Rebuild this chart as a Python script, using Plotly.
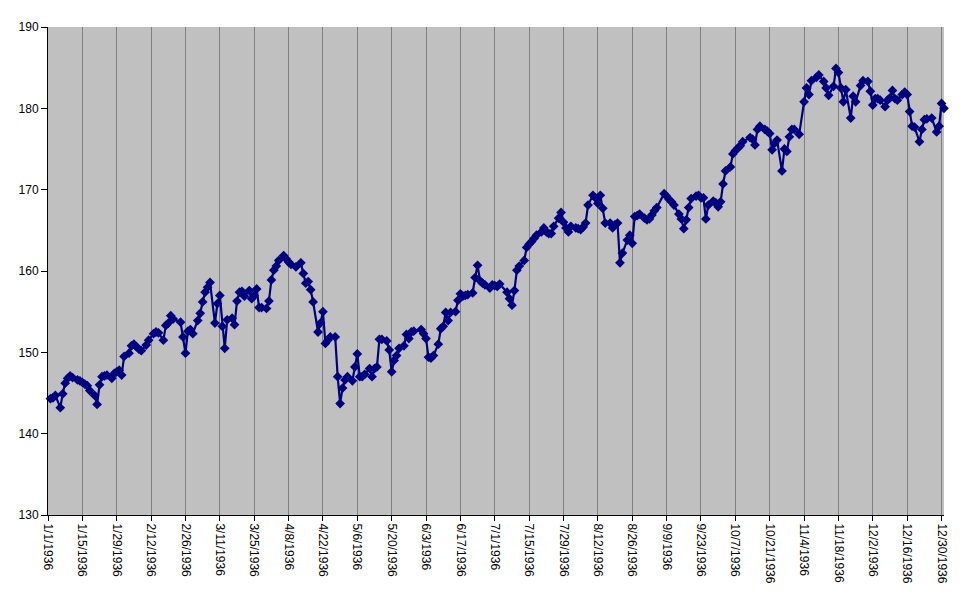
import pandas as pd
import plotly.graph_objects as go

YEAR = 1936

# Trading days (day of month) and closing values
jan_days = [2, 3, 4, 6, 7, 8, 9, 10, 11, 13, 14, 15, 16, 17, 18, 20, 21, 22, 23, 24, 25, 27, 28, 29, 30, 31]
jan_vals = [144.3, 144.4, 144.7, 143.2, 144.9, 146.2, 146.8, 147.1, 146.9, 146.6, 146.5, 146.3, 146.1, 145.9, 145.3,
            144.7, 143.6, 146.0, 147.0, 147.1, 147.2, 146.8, 147.4, 147.6, 147.8, 147.2]

feb_days = [1, 3, 4, 5, 6, 7, 8, 10, 11, 13, 14, 15, 17, 18, 19, 20, 21, 24, 25, 26, 27, 28, 29]
feb_vals = [149.5, 149.9, 150.8, 151.0, 150.7, 150.4, 150.2, 150.9, 151.5, 152.3, 152.5, 152.4, 151.5, 153.3, 153.6,
            154.5, 154.1, 153.7, 151.9, 149.9, 152.6, 152.8, 152.3]

mar_days = [2, 3, 4, 5, 6, 7, 9, 10, 11, 12, 13, 14, 16, 17, 18, 19, 20, 21, 23, 24, 25, 26, 27, 28, 30, 31]
mar_vals = [153.9, 154.8, 156.2, 157.4, 158.0, 158.6, 153.6, 156.0, 157.0, 153.2, 150.5, 154.0, 154.2, 153.4, 156.3,
            157.4, 157.5, 156.9, 157.6, 156.6, 157.0, 157.8, 155.5, 155.5, 155.4, 156.3]

apr_days = [1, 2, 3, 4, 6, 7, 8, 9, 11, 13, 14, 15, 16, 17, 18, 20, 21, 22, 23, 24, 25, 27, 28, 29, 30]
apr_vals = [158.9, 160.1, 160.6, 161.3, 161.9, 161.5, 161.1, 160.8, 160.5, 161.0, 159.7, 158.5, 158.7, 157.7, 156.2,
            152.5, 153.6, 155.0, 151.1, 151.5, 151.9, 151.9, 147.0, 143.7, 145.6]

may_days = [1, 2, 4, 5, 6, 7, 8, 9, 11, 12, 13, 14, 15, 16, 18, 19, 20, 21, 22, 23, 25, 26, 27, 28, 29]
may_vals = [146.6, 147.0, 146.5, 148.2, 149.8, 147.0, 147.0, 147.3, 148.0, 147.0, 148.0, 148.2, 151.6, 151.6, 151.4,
            150.3, 147.6, 149.0, 149.6, 150.5, 150.8, 152.2, 151.7, 152.5, 152.6]

jun_days = [1, 2, 3, 4, 5, 6, 8, 9, 10, 11, 12, 13, 15, 16, 17, 18, 19, 20, 22, 23, 24, 25, 26, 27, 29, 30]
jun_vals = [152.8, 152.3, 151.7, 149.4, 149.3, 149.6, 151.0, 152.9, 153.2, 154.9, 153.9, 154.9, 155.0, 156.4, 157.2,
            156.9, 157.0, 157.1, 157.3, 159.2, 160.7, 158.8, 158.5, 158.3, 157.9, 158.3]

jul_days = [1, 2, 3, 6, 7, 8, 9, 10, 11, 13, 14, 15, 16, 17, 18, 20, 21, 22, 23, 24, 25, 27, 28, 29, 30, 31]
jul_vals = [158.2, 158.1, 158.4, 157.4, 156.6, 155.8, 157.6, 160.1, 160.6, 161.3, 162.9, 163.3, 163.6, 164.0, 164.4,
            164.8, 165.3, 164.8, 164.6, 164.6, 165.5, 166.5, 167.2, 166.0, 165.3, 164.8]

aug_days = [1, 3, 4, 5, 6, 7, 8, 10, 11, 12, 13, 14, 15, 17, 18, 19, 20, 21, 22, 24, 25, 26, 27, 28, 29, 31]
aug_vals = [165.5, 165.3, 165.2, 165.1, 165.4, 165.9, 168.1, 169.3, 169.0, 168.3, 169.3, 167.7, 165.9, 165.9, 165.3,
            165.7, 165.9, 161.0, 162.2, 163.8, 164.4, 163.4, 166.7, 166.8, 167.0, 166.5]

sep_days = [1, 2, 3, 4, 5, 8, 9, 10, 11, 12, 14, 15, 16, 17, 18, 19, 21, 22, 23, 24, 25, 26, 28, 29, 30]
sep_vals = [166.3, 166.4, 166.9, 167.4, 167.8, 169.5, 169.2, 168.8, 168.5, 168.1, 167.0, 166.4, 165.2, 166.3, 167.8,
            168.9, 169.2, 169.3, 169.0, 169.0, 166.4, 168.1, 168.6, 168.4, 167.9]

oct_days = [1, 2, 3, 5, 6, 7, 8, 9, 10, 13, 14, 15, 16, 17, 19, 20, 21, 22, 23, 24, 26, 27, 28, 29, 30, 31]
oct_vals = [168.5, 170.7, 172.3, 172.8, 174.4, 174.8, 175.1, 175.4, 175.9, 176.4, 176.2, 175.5, 177.4, 177.8, 177.4,
            177.2, 176.9, 174.9, 175.7, 176.1, 172.3, 175.0, 174.7, 176.5, 177.4, 177.4]

nov_days = [2, 4, 5, 6, 7, 9, 10, 12, 13, 14, 16, 17, 18, 19, 20, 21, 23, 24, 25, 27, 28, 30]
nov_vals = [176.8, 180.8, 182.5, 181.7, 183.4, 183.8, 184.1, 183.3, 182.5, 181.6, 182.7, 184.9, 184.4, 182.5, 180.8,
            182.3, 178.8, 181.5, 180.8, 182.8, 183.4, 183.3]

dec_days = [1, 2, 3, 4, 5, 7, 8, 9, 10, 11, 12, 14, 15, 16, 17, 18, 19, 21, 22, 23, 24, 26, 28, 29, 30, 31]
dec_vals = [182.1, 180.4, 181.2, 181.2, 181.0, 180.2, 181.0, 181.3, 182.2, 181.2, 181.0, 181.7, 182.0, 181.7, 179.6,
            177.8, 177.7, 175.9, 177.4, 178.6, 178.7, 178.8, 177.1, 177.8, 180.6, 180.0]

months = [
    (1, jan_days, jan_vals), (2, feb_days, feb_vals), (3, mar_days, mar_vals), (4, apr_days, apr_vals),
    (5, may_days, may_vals), (6, jun_days, jun_vals), (7, jul_days, jul_vals), (8, aug_days, aug_vals),
    (9, sep_days, sep_vals), (10, oct_days, oct_vals), (11, nov_days, nov_vals), (12, dec_days, dec_vals),
]

dates, values = [], []
for m, days, vals in months:
    assert len(days) == len(vals), m
    for d, v in zip(days, vals):
        dates.append(pd.Timestamp(YEAR, m, d))
        values.append(v)

FONT = "Liberation Sans, Arial, sans-serif"
NAVY = "#000080"

fig = go.Figure(
    go.Scatter(
        x=dates, y=values, mode="lines+markers",
        line=dict(color=NAVY, width=2.2),
        marker=dict(symbol="diamond", size=7.5, color=NAVY, line=dict(width=0)),
        cliponaxis=False, showlegend=False,
    )
)

fig.update_layout(
    width=971, height=605,
    margin=dict(l=48, r=27, t=27, b=90),
    paper_bgcolor="white", plot_bgcolor="#C0C0C0",
    font=dict(family=FONT, size=12, color="black"),
    xaxis=dict(
        type="date", range=["1936-01-01", "1936-12-31"],
        tick0="1936-01-01", dtick=14 * 86400000, tickformat="%-m/%-d/%Y",
        tickangle=90, ticks="outside", ticklen=5, tickcolor="black",
        showgrid=True, gridcolor="#808080", gridwidth=1,
        showline=True, linecolor="black", linewidth=1, zeroline=False,
        tickfont=dict(family=FONT, size=12),
    ),
    yaxis=dict(
        range=[130, 190], tick0=130, dtick=10,
        ticks="outside", ticklen=6, tickcolor="black",
        showgrid=False, showline=True, linecolor="black", linewidth=1, zeroline=False,
        tickfont=dict(family=FONT, size=12),
    ),
)

fig.write_html(
    "out.html",
    config={"displayModeBar": False},
    post_script="document.body.style.margin='0';document.body.style.overflow='hidden';",
)
